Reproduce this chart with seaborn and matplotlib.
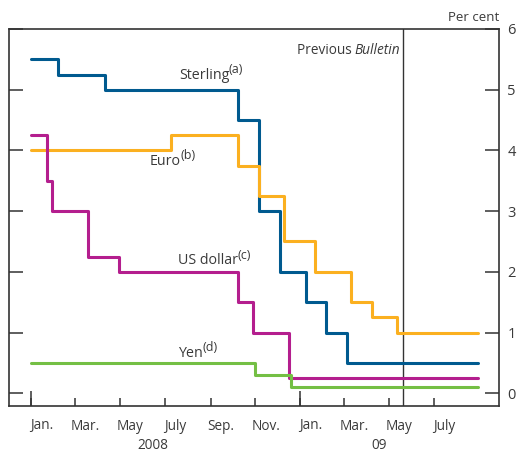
import matplotlib
matplotlib.use("Agg")
import matplotlib.pyplot as plt
import matplotlib.dates as mdates
import seaborn as sns
import pandas as pd

# ---- data (step-change dates and policy rates, per cent) ----
sterling_dates = ["2008-01-01", "2008-02-07", "2008-04-10", "2008-10-08", "2008-11-06",
                  "2008-12-04", "2009-01-08", "2009-02-05", "2009-03-05", "2009-08-31"]
sterling_rates = [5.5, 5.25, 5.0, 4.5, 3.0, 2.0, 1.5, 1.0, 0.5, 0.5]

euro_dates = ["2008-01-01", "2008-07-09", "2008-10-08", "2008-11-06", "2008-12-10",
              "2009-01-21", "2009-03-11", "2009-04-08", "2009-05-13", "2009-08-31"]
euro_rates = [4.0, 4.25, 3.75, 3.25, 2.5, 2.0, 1.5, 1.25, 1.0, 1.0]

usd_dates = ["2008-01-01", "2008-01-22", "2008-01-30", "2008-03-18", "2008-04-30",
             "2008-10-08", "2008-10-29", "2008-12-16", "2009-08-31"]
usd_rates = [4.25, 3.5, 3.0, 2.25, 2.0, 1.5, 1.0, 0.25, 0.25]

yen_dates = ["2008-01-01", "2008-10-31", "2008-12-19", "2009-08-31"]
yen_rates = [0.5, 0.3, 0.1, 0.1]

series_names = ["Sterling", "Euro", "US dollar", "Yen"]
series_colors = ["#005a8f", "#fbb020", "#b41e8e", "#74bf44"]
label_text = ["Sterling", "Euro", "US dollar", "Yen"]
label_notes = ["(a)", "(b)", "(c)", "(d)"]
label_dates = ["2008-07-20", "2008-06-10", "2008-07-19", "2008-07-19"]
label_values = [5.24, 3.82, 2.18, 0.66]

month_labels = ["Jan.", "Mar.", "May", "July", "Sep.", "Nov.",
                "Jan.", "Mar.", "May", "July"]
month_starts = ["2008-01-01", "2008-03-01", "2008-05-01", "2008-07-01", "2008-09-01",
                "2008-11-01", "2009-01-01", "2009-03-01", "2009-05-01", "2009-07-01"]
year_labels = ["2008", "09"]
year_label_dates = ["2008-06-14", "2009-04-18"]
year_ticks = ["2008-01-01", "2009-01-01"]
previous_bulletin = "2009-05-21"
y_ticks = [0, 1, 2, 3, 4, 5, 6]

frames = []
for name, d, r in zip(series_names,
                      [sterling_dates, euro_dates, usd_dates, yen_dates],
                      [sterling_rates, euro_rates, usd_rates, yen_rates]):
    frames.append(pd.DataFrame({"date": pd.to_datetime(d), "rate": r, "series": name}))
df = pd.concat(frames, ignore_index=True)

sns.set_style("white")
plt.rcParams["font.family"] = ["Open Sans", "DejaVu Sans"]

text_color = "#3a3a3a"
axis_color = "#333333"

fig = plt.figure(figsize=(5.19, 4.54), dpi=100)
ax = fig.add_axes([9 / 519, 1 - 406 / 454, 490 / 519, 377 / 454])

sns.lineplot(data=df, x="date", y="rate", hue="series", hue_order=series_names,
             palette=series_colors, drawstyle="steps-post", estimator=None,
             sort=False, legend=False, linewidth=2.2, ax=ax)

ax.set_xlim(pd.Timestamp("2007-12-02"), pd.Timestamp("2009-09-28"))
ax.set_ylim(-0.21, 6)
ax.set_xlabel("")
ax.set_ylabel("")

# Previous Bulletin line and label
ax.axvline(pd.Timestamp(previous_bulletin), color=axis_color, linewidth=1.0, zorder=1)
bull = ax.text(pd.Timestamp(previous_bulletin) - pd.Timedelta(days=4), 5.65,
               "Bulletin", ha="right", va="center", fontsize=9.8,
               style="italic", color=text_color)
ax.annotate("Previous ", xy=(0.0, 0.5), xycoords=bull, ha="right", va="center",
            fontsize=9.8, color=text_color)

# Series labels with superscript notes
for t, n, d, v in zip(label_text, label_notes, label_dates, label_values):
    main = ax.text(pd.Timestamp(d), v, t, ha="left", va="center",
                   fontsize=10.3, color=text_color)
    ax.annotate(n, xy=(1.0, 0.45), xycoords=main, xytext=(-0.3, 0),
                textcoords="offset points", ha="left", va="bottom",
                fontsize=9, color=text_color)

# spines
for s in ax.spines.values():
    s.set_color(axis_color)
    s.set_linewidth(1.2)

# y axis
ax.set_yticks(y_ticks)
ax.tick_params(axis="y", which="major", left=True, right=True, labelleft=False,
               labelright=True, direction="in", length=10, width=1.1,
               color=axis_color, labelsize=10.5, labelcolor=text_color, pad=6)
ax.text(1.0, 1.012, "Per cent", transform=ax.transAxes, ha="right", va="bottom",
        fontsize=9.5, color=text_color)

# x axis: month start ticks (no label), mid-month labels
mids = [pd.Timestamp(m) + pd.Timedelta(days=14) for m in month_starts]
ax.set_xticks(mids)
ax.set_xticklabels(month_labels)
ax.set_xticks([pd.Timestamp(m) for m in month_starts], minor=True)
ax.tick_params(axis="x", which="major", length=0, labelsize=9.8,
               labelcolor=text_color, pad=9)
ax.tick_params(axis="x", which="minor", direction="in", length=6, width=1.1,
               color=axis_color, bottom=True)

# taller year ticks
sec = ax.secondary_xaxis("bottom")
sec.set_xticks([mdates.date2num(pd.Timestamp(y)) for y in year_ticks])
sec.set_xticklabels(["", ""])
sec.tick_params(direction="in", length=11, width=1.1, color=axis_color)
sec.spines["bottom"].set_visible(False)

# year labels
sec2 = ax.secondary_xaxis("bottom")
sec2.set_xticks([mdates.date2num(pd.Timestamp(y)) for y in year_label_dates])
sec2.set_xticklabels(year_labels)
sec2.tick_params(length=0, labelsize=9.8, labelcolor=text_color, pad=23)
sec2.spines["bottom"].set_visible(False)

ax.grid(False)
fig.savefig("out.png", dpi=100)
